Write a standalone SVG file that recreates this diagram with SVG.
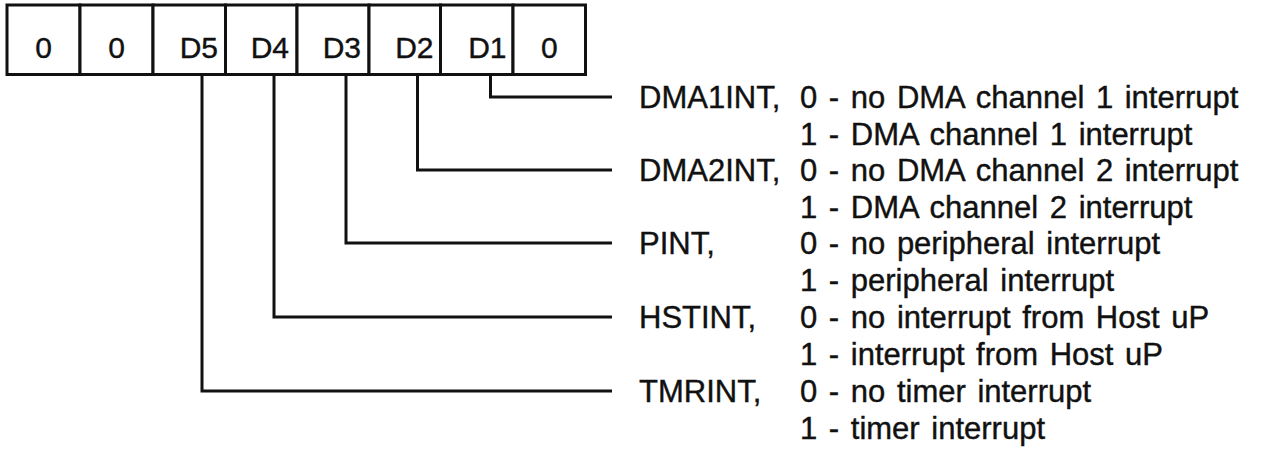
<svg xmlns="http://www.w3.org/2000/svg" width="1264" height="451" viewBox="0 0 1264 451">
<style>
.cell{fill:#fff;stroke:#111;stroke-width:3}
.ct{font-family:"Liberation Sans",Arial,sans-serif;font-size:30px;fill:#111;stroke:#111;stroke-width:0.4}
.t{font-family:"Liberation Sans",Arial,sans-serif;font-size:31px;fill:#111;stroke:#111;stroke-width:0.4}
.v{word-spacing:3px}
.c{fill:none;stroke:#111;stroke-width:3}
</style>
<rect width="1264" height="451" fill="#fff"/>
<g id="register">
<g id="bit7"><rect class="cell" x="7" y="5" width="73" height="69.5"/><text class="ct" x="43.5" y="57.5" text-anchor="middle">0</text></g>
<g id="bit6"><rect class="cell" x="80" y="5" width="73" height="69.5"/><text class="ct" x="116.5" y="57.5" text-anchor="middle">0</text></g>
<g id="bit5"><rect class="cell" x="153" y="5" width="72.5" height="69.5"/><text class="ct" x="218" y="57.5" text-anchor="end">D5</text></g>
<g id="bit4"><rect class="cell" x="225.5" y="5" width="71.5" height="69.5"/><text class="ct" x="289" y="57.5" text-anchor="end">D4</text></g>
<g id="bit3"><rect class="cell" x="297" y="5" width="72" height="69.5"/><text class="ct" x="361" y="57.5" text-anchor="end">D3</text></g>
<g id="bit2"><rect class="cell" x="369" y="5" width="71.5" height="69.5"/><text class="ct" x="433.5" y="57.5" text-anchor="end">D2</text></g>
<g id="bit1"><rect class="cell" x="440.5" y="5" width="72.5" height="69.5"/><text class="ct" x="506.5" y="57.5" text-anchor="end">D1</text></g>
<g id="bit0"><rect class="cell" x="513" y="5" width="72.5" height="69.5"/><text class="ct" x="549.3" y="57.5" text-anchor="middle">0</text></g>
</g>
<g id="connectors">
<path class="c" d="M490.5 74.5 V97 H612"/>
<path class="c" d="M417.5 74.5 V170 H612"/>
<path class="c" d="M346 74.5 V243 H612"/>
<path class="c" d="M274 74.5 V317 H612"/>
<path class="c" d="M202 74.5 V391 H612"/>
</g>
<g id="dma1int">
<text class="t" x="639" y="108">DMA1INT,</text>
<text class="t v" x="800" y="108">0 - no DMA channel 1 interrupt</text>
<text class="t v" x="800" y="145">1 - DMA channel 1 interrupt</text>
</g>
<g id="dma2int">
<text class="t" x="639" y="181">DMA2INT,</text>
<text class="t v" x="800" y="181">0 - no DMA channel 2 interrupt</text>
<text class="t v" x="800" y="218">1 - DMA channel 2 interrupt</text>
</g>
<g id="pint">
<text class="t" x="639" y="254">PINT,</text>
<text class="t v" x="800" y="254">0 - no peripheral interrupt</text>
<text class="t v" x="800" y="291">1 - peripheral interrupt</text>
</g>
<g id="hstint">
<text class="t" x="639" y="328">HSTINT,</text>
<text class="t v" x="800" y="328">0 - no interrupt from Host uP</text>
<text class="t v" x="800" y="365">1 - interrupt from Host uP</text>
</g>
<g id="tmrint">
<text class="t" x="639" y="402">TMRINT,</text>
<text class="t v" x="800" y="402">0 - no timer interrupt</text>
<text class="t v" x="800" y="439">1 - timer interrupt</text>
</g>
</svg>
